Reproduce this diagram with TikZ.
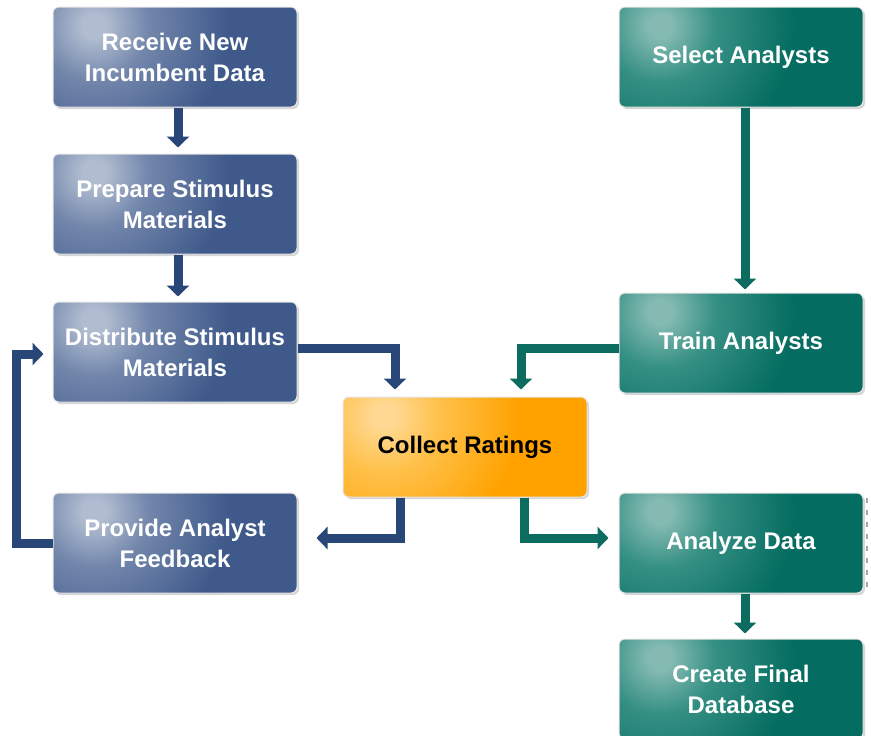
\documentclass[tikz,border=0pt]{standalone}
\usepackage{fontspec}
\setmainfont{Liberation Sans}
\usetikzlibrary{arrows.meta,shadows,calc}

\definecolor{bhi}{RGB}{176,188,208}
\definecolor{bmid}{RGB}{114,134,171}
\definecolor{blo}{RGB}{62,89,138}
\definecolor{barrow}{RGB}{40,70,120}
\definecolor{thi}{RGB}{132,186,178}
\definecolor{tmid}{RGB}{54,144,132}
\definecolor{tlo}{RGB}{4,108,96}
\definecolor{tarrow}{RGB}{12,108,96}
\definecolor{ohi}{RGB}{255,216,145}
\definecolor{omid}{RGB}{255,193,75}
\definecolor{olo}{RGB}{255,162,0}

% round glows at natural size (radius 150bp), placed near the upper-left corner of each box
\pgfdeclareradialshading{glowblue}{\pgforigin}{color(0bp)=(bhi); color(12bp)=(bhi); color(55bp)=(bmid); color(135bp)=(blo); color(150bp)=(blo)}
\pgfdeclareradialshading{glowteal}{\pgforigin}{color(0bp)=(thi); color(12bp)=(thi); color(55bp)=(tmid); color(135bp)=(tlo); color(150bp)=(tlo)}
\pgfdeclareradialshading{gloworange}{\pgforigin}{color(0bp)=(ohi); color(12bp)=(ohi); color(55bp)=(omid); color(135bp)=(olo); color(150bp)=(olo)}

\tikzset{
  box/.style={rectangle, rounded corners=6pt, minimum width=244pt, minimum height=100pt,
    align=center, inner sep=0pt, font=\bfseries\fontsize{24}{31}\selectfont, text=white,
    draw=black!10, line width=1pt,
    drop shadow={shadow xshift=2pt, shadow yshift=-2pt, fill=black!16, opacity=1}},
  glow/.style={path picture={\node[inner sep=0pt, outer sep=0pt]
      at ($(path picture bounding box.north west)+(41,19)$) {\pgfuseshading{#1}};}},
  bluebox/.style={box, fill=blo, glow=glowblue},
  tealbox/.style={box, fill=tlo, glow=glowteal},
  orangebox/.style={box, fill=olo, glow=gloworange, text=black},
  flow/.style={line width=9pt, line join=miter, -{Triangle[width=22pt,length=11pt]}},
  barr/.style={flow, draw=barrow},
  tarr/.style={flow, draw=tarrow}
}

\begin{document}
\begin{tikzpicture}[x=1pt,y=-1pt]
\useasboundingbox (0,0) rectangle (871,736);
\clip (0,0) rectangle (871,736);

% left column
\node[bluebox] (rec)  at (175,57)  {Receive New\\Incumbent Data};
\node[bluebox] (prep) at (175,204) {Prepare Stimulus\\Materials};
\node[bluebox] (dist) at (175,352) {Distribute Stimulus\\Materials};
\node[bluebox] (prov) at (175,543) {Provide Analyst\\Feedback};

% centre
\node[orangebox] (coll) at (465,447) {Collect Ratings};

% right column
\node[tealbox] (sel)   at (741,57)  {Select Analysts};
\node[tealbox] (train) at (741,343) {Train Analysts};
\node[tealbox] (ana)   at (741,543) {Analyze Data};
\node[tealbox] (cre)   at (741,689) {Create Final\\Database};

% connectors
\draw[barr] ([xshift=3pt]rec.south) -- ([xshift=3pt,yshift=6pt]prep.north);
\draw[barr] ([xshift=3pt]prep.south) -- ([xshift=3pt,yshift=5pt]dist.north);
\draw[barr] ([yshift=4pt]dist.east) -| ([xshift=-70pt,yshift=7pt]coll.north);
\draw[tarr] ([yshift=-5pt]train.west) -| ([xshift=56pt,yshift=7pt]coll.north);
\draw[barr] ([xshift=-65pt]coll.south) |- ([xshift=19pt,yshift=5pt]prov.east);
\draw[tarr] ([xshift=59pt]coll.south) |- ([xshift=-10pt,yshift=5pt]ana.west);
\coordinate (loop) at (16,450);
\draw[barr] (prov.west) -| (loop) |- ([xshift=-9pt,yshift=-2pt]dist.west);
\draw[tarr] ([xshift=4pt]sel.south) -- ([xshift=4pt,yshift=3pt]train.north);
\draw[tarr] ([xshift=4pt]ana.south) -- ([xshift=4pt,yshift=5pt]cre.north);

% faint tick marks beside the analysis box
\draw[black!35, line width=2pt, dash pattern=on 5pt off 7pt] (867,498) -- (867,590);
\end{tikzpicture}
\end{document}
